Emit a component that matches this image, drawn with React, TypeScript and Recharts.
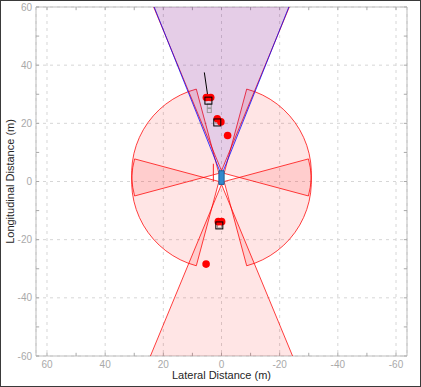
import React from 'react';
import { ScatterChart, Scatter, XAxis, YAxis, CartesianGrid, ReferenceArea, ReferenceLine } from 'recharts';

// sensor mounts, vehicle coords (x forward, y left), metres / degrees
const sensorNames = ['frontRadar', 'frontCamera', 'rearRadar', 'frontLeft', 'frontRight', 'rearLeft', 'rearRight'];
const sensorX = [3.7, 2.1, -1.0, 2.8, 2.8, 0.0, 0.0];
const sensorY = [0.0, 0.0, 0.0, 0.9, -0.9, 0.9, -0.9];
const sensorYaw = [0, 0, 180, 60, -60, 120, -120];
const sensorFov = [45, 43.6, 45, 90, 90, 90, 90];
const sensorRange = [174, 150, 100, 30, 30, 30, 30];
const sensorType = ['radar', 'vision', 'radar', 'radar', 'radar', 'radar', 'radar'];

// ego vehicle outline
const egoLon = [3.7, 3.7, -1.0, -1.0];
const egoLat = [0.9, -0.9, -0.9, 0.9];

// radar detections
const detLat = [5.2, 3.7, 1.45, 0.2, -2.1, 1.1, -0.05, 5.3];
const detLon = [28.9, 28.9, 21.6, 20.5, 15.8, -13.8, -13.8, -28.4];

// tracks
const trackLat = [4.5, 1.45, 0.75];
const trackLon = [27.8, 20.3, -15.1];

// track history
const histLat = [4.2, 4.2, 1.3, 0.7];
const histLon = [26.0, 24.4, 20.7, -15.3];

// heading line of lead track
const headLat = [4.5, 5.9];
const headLon = [27.8, 37.5];

// short marker left of ego
const markLat = [2.8, 2.8];
const markLon = [0.0, 6.1];

const xTicks = [-60, -40, -20, 0, 20, 40, 60];
const yTicks = [-60, -40, -20, 0, 20, 40, 60];
const minorTicks = [-60, -50, -40, -30, -20, -10, 0, 10, 20, 30, 40, 50, 60];

const X_LIM = 63.78;
const TICK_LEN = 1.1;

const rad = (d: number) => (d * Math.PI) / 180;

const coverage = sensorNames.map((name, i) => {
  const a1 = rad(sensorYaw[i] - sensorFov[i] / 2);
  const a2 = rad(sensorYaw[i] + sensorFov[i] / 2);
  const r = sensorRange[i];
  return {
    name,
    type: sensorType[i],
    points: [
      { lat: sensorY[i], lon: sensorX[i] },
      { lat: sensorY[i] + r * Math.sin(a1), lon: sensorX[i] + r * Math.cos(a1) },
      { lat: sensorY[i] + r * Math.sin(a2), lon: sensorX[i] + r * Math.cos(a2) },
    ],
  };
});
// short range first, long range on top
const coverageOrder = [3, 4, 5, 6, 2, 0, 1];

const zip = (lat: number[], lon: number[]) => lat.map((v, i) => ({ lat: v, lon: lon[i] }));
const egoData = zip(egoLat, egoLon);
const detData = zip(detLat, detLon);
const trackData = zip(trackLat, trackLon);
const histData = zip(histLat, histLon);
const headData = zip(headLat, headLon);
const markData = zip(markLat, markLon);

const sectorLine = (fill: string, stroke: string) => (props: any) => {
  const [c, a, b] = props.points;
  const r = Math.hypot(a.x - c.x, a.y - c.y);
  const cross = (a.x - c.x) * (b.y - c.y) - (a.y - c.y) * (b.x - c.x);
  const sweep = cross > 0 ? 1 : 0;
  const d = `M${c.x},${c.y}L${a.x},${a.y}A${r},${r} 0 0 ${sweep} ${b.x},${b.y}Z`;
  return <path d={d} fill={fill} fillOpacity={0.1} stroke={stroke} strokeOpacity={0.75} strokeWidth={1} />;
};

const polyLine = (fill: string, stroke: string) => (props: any) => {
  const pts = props.points;
  const d = pts.map((p: any, i: number) => `${i ? 'L' : 'M'}${p.x},${p.y}`).join('') + 'Z';
  return <path d={d} fill={fill} stroke={stroke} strokeWidth={1} />;
};

const hidden = () => <g />;

const axisGray = '#a9a9a9';

export default function App() {
  return (
    <div style={{ position: 'absolute', left: 0, top: 0, width: 421, height: 387, background: '#fff', fontFamily: 'Liberation Sans, Arial, sans-serif' }}>
      <ScatterChart width={421} height={387} margin={{ top: 7, right: 14, bottom: 0, left: 0 }}>
        <CartesianGrid stroke="#d6d6d6" strokeDasharray="3 4" />
        <XAxis
          type="number"
          dataKey="lat"
          domain={[-X_LIM, X_LIM]}
          reversed
          allowDataOverflow
          ticks={xTicks}
          height={31}
          axisLine={false}
          tickLine={false}
          tickSize={0}
          tickMargin={5}
          tick={{ fill: axisGray, fontSize: 10 }}
          label={{ value: 'Lateral Distance (m)', position: 'insideBottom', offset: 8, fill: '#262626', fontSize: 11 }}
        />
        <YAxis
          type="number"
          dataKey="lon"
          domain={[-60, 60]}
          allowDataOverflow
          ticks={yTicks}
          width={36}
          axisLine={false}
          tickLine={false}
          tickSize={0}
          tickMargin={4}
          tick={{ fill: axisGray, fontSize: 10 }}
          label={{ value: 'Longitudinal Distance (m)', angle: -90, position: 'insideLeft', offset: 10, fill: '#262626', fontSize: 11, style: { textAnchor: 'middle' } }}
        />

        {coverageOrder.map((i) => {
          const c = coverage[i];
          const col = c.type === 'vision' ? '#0000ff' : '#ff0000';
          return (
            <Scatter
              key={c.name}
              name={c.name}
              data={c.points}
              isAnimationActive={false}
              shape={hidden}
              line={sectorLine(col, col)}
            />
          );
        })}

        <Scatter name="mark" data={markData} isAnimationActive={false} shape={hidden} line={{ stroke: '#ff2020', strokeWidth: 1 }} />
        <Scatter name="ego" data={egoData} isAnimationActive={false} shape={hidden} line={polyLine('#3189cc', '#1f5f96')} />

        <Scatter
          name="history"
          data={histData}
          isAnimationActive={false}
          shape={(p: any) => <rect x={p.cx - 2} y={p.cy - 2} width={4} height={4} fill="none" stroke="#9a9a9a" strokeWidth={1} />}
        />
        <Scatter name="heading" data={headData} isAnimationActive={false} shape={hidden} line={{ stroke: '#000', strokeWidth: 1 }} />
        <Scatter
          name="detections"
          data={detData}
          isAnimationActive={false}
          shape={(p: any) => <circle cx={p.cx} cy={p.cy} r={3.8} fill="#ff0000" />}
        />
        <Scatter
          name="tracks"
          data={trackData}
          isAnimationActive={false}
          shape={(p: any) => <rect x={p.cx - 3.5} y={p.cy - 3.5} width={7} height={7} fill="none" stroke="#000" strokeWidth={1} />}
        />

        {minorTicks.map((t) => (
          <ReferenceLine key={'b' + t} segment={[{ x: t, y: -60 }, { x: t, y: -60 + TICK_LEN }]} stroke={axisGray} ifOverflow="visible" />
        ))}
        {minorTicks.map((t) => (
          <ReferenceLine key={'t' + t} segment={[{ x: t, y: 60 }, { x: t, y: 60 - TICK_LEN }]} stroke={axisGray} ifOverflow="visible" />
        ))}
        {minorTicks.map((t) => (
          <ReferenceLine key={'l' + t} segment={[{ x: X_LIM, y: t }, { x: X_LIM - TICK_LEN, y: t }]} stroke={axisGray} ifOverflow="visible" />
        ))}
        {minorTicks.map((t) => (
          <ReferenceLine key={'r' + t} segment={[{ x: -X_LIM, y: t }, { x: -X_LIM + TICK_LEN, y: t }]} stroke={axisGray} ifOverflow="visible" />
        ))}
        <ReferenceArea x1={-X_LIM} x2={X_LIM} y1={-60} y2={60} fill="none" stroke="#bdbdbd" ifOverflow="visible" />
      </ScatterChart>
      <div style={{ position: 'absolute', inset: 0, border: '1px solid #3a3a3a', pointerEvents: 'none' }} />
    </div>
  );
}
